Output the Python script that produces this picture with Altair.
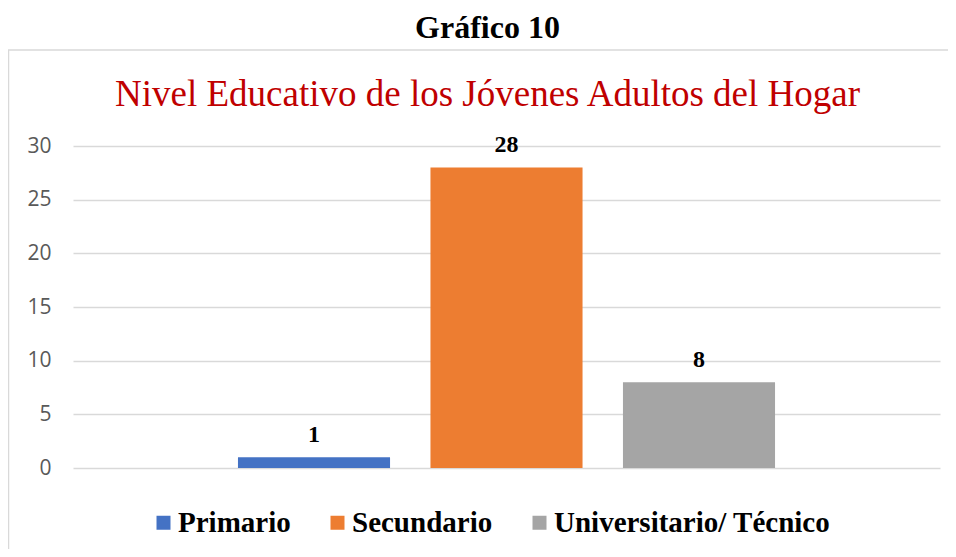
import altair as alt
import pandas as pd

categories = ["Primario", "Secundario", "Universitario/ Técnico"]
values = [1, 28, 8]
colors = ["#4472C4", "#ED7D31", "#A5A5A5"]
y_ticks = [0, 5, 10, 15, 20, 25, 30]

df = pd.DataFrame({"Nivel": categories, "Valor": values})

W, H = 867, 322

x_enc = alt.X("Nivel:N", sort=categories, axis=None,
              scale=alt.Scale(paddingInner=0.21, paddingOuter=0.857))
y_enc = alt.Y("Valor:Q",
              scale=alt.Scale(domain=[0, 30], nice=False),
              axis=alt.Axis(values=y_ticks, title=None, domain=False, ticks=False,
                            labelPadding=22, labelFont="Open Sans", labelFontSize=21,
                            labelColor="#595959", gridColor="#D9D9D9", gridWidth=1.4))

frame = alt.Chart(pd.DataFrame({"a": [0]})).mark_rect(
    fillOpacity=0, stroke="#D9D9D9", strokeWidth=1.5
).encode(x=alt.value(-64.5), x2=alt.value(950), y=alt.value(-96), y2=alt.value(470))

bars = alt.Chart(df).mark_bar().encode(
    x=x_enc,
    y=y_enc,
    color=alt.Color("Nivel:N", sort=categories,
                    scale=alt.Scale(domain=categories, range=colors),
                    legend=alt.Legend(title=None, orient="none", direction="horizontal",
                                      legendX=76, legendY=362,
                                      symbolType="square", symbolSize=196,
                                      symbolStrokeWidth=0, labelFont="Liberation Serif",
                                      labelFontWeight="bold", labelFontSize=29,
                                      labelColor="#000000", labelOffset=0,
                                      columnPadding=32, labelLimit=400)),
)

labels = alt.Chart(df).mark_text(
    font="Liberation Serif", fontWeight="bold", fontSize=24, color="#000000",
    baseline="alphabetic", dy=-15
).encode(x=alt.X("Nivel:N", sort=categories), y="Valor:Q", text="Valor:Q")

chart = alt.layer(frame, bars, labels).properties(
    width=W, height=H,
    autosize=alt.AutoSizeParams(type="none"),
    padding={"left": 65, "top": 138, "right": 8, "bottom": 81},
    title=alt.TitleParams(
        text="Gráfico 10",
        subtitle="Nivel Educativo de los Jóvenes Adultos del Hogar",
        font="Liberation Serif", fontSize=32, fontWeight="bold", color="#000000",
        subtitleFont="Liberation Serif", subtitleFontSize=37, subtitleColor="#C00000",
        subtitlePadding=32, anchor="middle", frame="group", dx=-19, dy=87, offset=22,
    ),
).configure_view(stroke=None)

chart.save("out.html", embed_options={"renderer": "svg", "actions": False})
